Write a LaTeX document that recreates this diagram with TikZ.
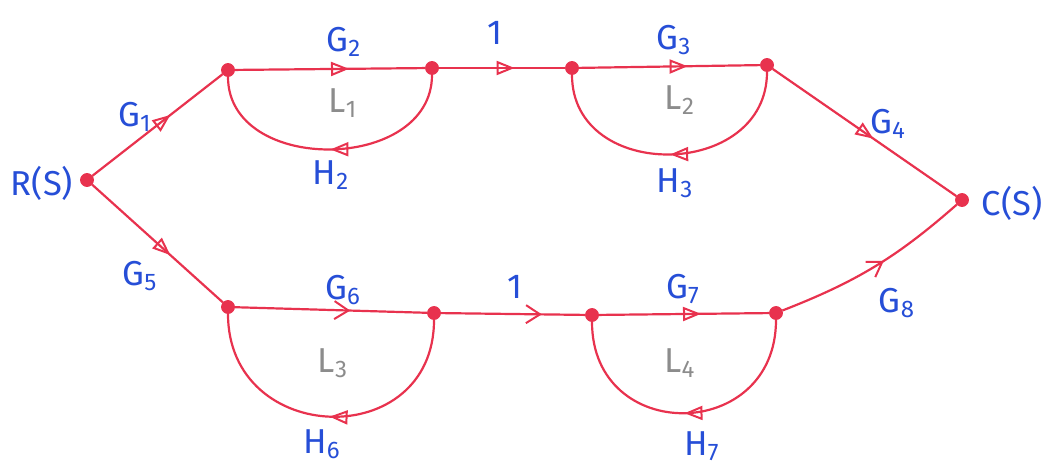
\documentclass[tikz,border=0pt]{standalone}
\usepackage{fontspec}
\setmainfont{Fira Sans}
\usetikzlibrary{arrows.meta,decorations.markings}

\definecolor{pen}{RGB}{232,50,78}
\definecolor{ink}{RGB}{38,78,215}

\newcommand{\gn}[2]{#1\textsubscript{#2}}

\begin{document}
\begin{tikzpicture}[
        x=0.5pt, y=-0.5pt,
        % --- Node styles ---
        sig/.style={circle, fill=pen, draw=pen, inner sep=0pt, minimum size=6.5pt},
        gain/.style={text=ink, font=\LARGE},
        loopname/.style={text=black!45, font=\LARGE},
        % --- Branch styles ---
        branch/.style={draw=pen, line width=1.1pt},
        tri/.style={postaction={decorate}, decoration={markings,
            mark=at position #1 with {\arrow[pen, line width=1pt]{Triangle[open, length=9pt, width=7pt]}}}},
        barb/.style={postaction={decorate}, decoration={markings,
            mark=at position #1 with {\arrow[pen, line width=1pt]{Straight Barb[length=7pt, width=9pt]}}}},
    ]

    \useasboundingbox (0,0) rectangle (1048,466);

    % ===== Signal nodes =====
    \node[sig] (R)  at (87, 180) {};
    \node[sig] (a1) at (228, 70) {};
    \node[sig] (a2) at (432, 68) {};
    \node[sig] (a3) at (572, 68) {};
    \node[sig] (a4) at (767, 65) {};
    \node[sig] (C)  at (962, 200) {};
    \node[sig] (b1) at (228, 307) {};
    \node[sig] (b2) at (434, 313) {};
    \node[sig] (b3) at (592, 315) {};
    \node[sig] (b4) at (776, 313) {};

    % ===== Input / output =====
    \node[gain] (lR) at (42, 183)   {R(S)};
    \node[gain] (lC) at (1012, 203) {C(S)};

    % ===== Upper path =====
    \draw[branch, tri=0.6]  (R) -- (a1);
    \draw[branch, tri=0.6]  (a1) -- (a2);
    \draw[branch, tri=0.6]  (a2) -- (a3);
    \draw[branch, tri=0.6]  (a3) -- (a4);
    \draw[branch, tri=0.55] (a4) -- (C);

    % feedback loops
    \draw[branch, tri=0.5] (a2) .. controls +(0,105) and +(0,105) .. (a1);
    \draw[branch, tri=0.5] (a4) .. controls +(0,115) and +(0,115) .. (a3);

    % ===== Lower path =====
    \draw[branch, tri=0.6]  (R) -- (b1);
    \draw[branch, barb=0.6] (b1) -- (b2);
    \draw[branch, barb=0.7] (b2) -- (b3);
    \draw[branch, tri=0.6]  (b3) -- (b4);
    \draw[branch, barb=0.55] (b4) to[bend right=10] (C);

    % feedback loops
    \draw[branch, tri=0.5] (b2) .. controls +(0,140) and +(0,140) .. (b1);
    \draw[branch, tri=0.5] (b4) .. controls +(0,130) and +(0,130) .. (b3);

    % ===== Gain labels =====
    \node[gain] (lG1) at (135, 117) {\gn{G}{1}};
    \node[gain] (lG2) at (344, 42)  {\gn{G}{2}};
    \node[gain] (lU1) at (495, 33)  {1};
    \node[gain] (lG3) at (674, 40)  {\gn{G}{3}};
    \node[gain] (lG4) at (888, 124) {\gn{G}{4}};
    \node[gain] (lH2) at (331, 175) {\gn{H}{2}};
    \node[gain] (lH3) at (675, 183) {\gn{H}{3}};

    \node[gain] (lG5) at (140, 276) {\gn{G}{5}};
    \node[gain] (lG6) at (343, 290) {\gn{G}{6}};
    \node[gain] (lU2) at (515, 287) {1};
    \node[gain] (lG7) at (683, 289) {\gn{G}{7}};
    \node[gain] (lG8) at (897, 303) {\gn{G}{8}};
    \node[gain] (lH6) at (322, 444) {\gn{H}{6}};
    \node[gain] (lH7) at (702, 446) {\gn{H}{7}};

    % ===== Loop names =====
    \node[loopname] (L1) at (343, 103) {L\textsubscript{1}};
    \node[loopname] (L2) at (680, 100) {L\textsubscript{2}};
    \node[loopname] (L3) at (333, 363) {L\textsubscript{3}};
    \node[loopname] (L4) at (680, 363) {L\textsubscript{4}};

\end{tikzpicture}
\end{document}
